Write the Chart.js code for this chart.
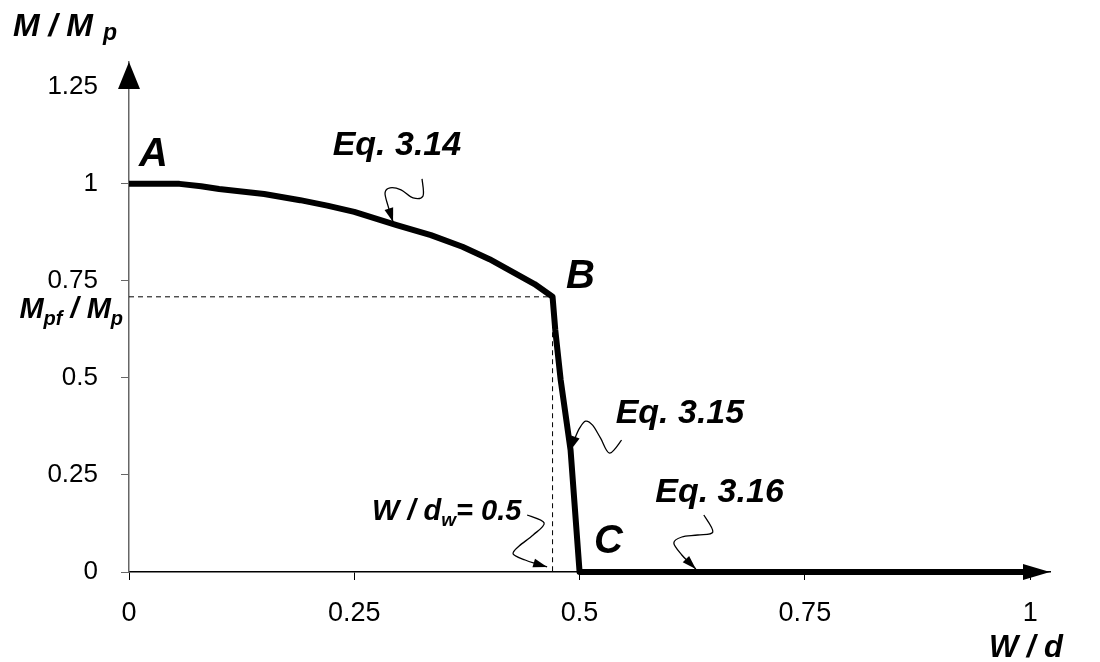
<!DOCTYPE html>
<html>
<head>
<meta charset="utf-8">
<script src="https://cdn.jsdelivr.net/npm/chart.js@4.4.1/dist/chart.umd.min.js"></script>
<style>
  html, body { margin: 0; padding: 0; background: #fff; }
  #wrap { width: 1100px; height: 662px; position: relative; }
</style>
</head>
<body>
<div id="wrap"><canvas id="chart"></canvas></div>
<script>
// Moment capacity curve M/Mp against W/d
const curveX = [0, 0.056, 0.08, 0.1, 0.15, 0.19, 0.22, 0.25, 0.297, 0.335, 0.37, 0.4, 0.428, 0.45, 0.47, 0.473, 0.479, 0.49, 0.5, 1];
const curveY = [1, 1, 0.994, 0.987, 0.974, 0.958, 0.944, 0.928, 0.894, 0.868, 0.838, 0.806, 0.77, 0.742, 0.709, 0.624, 0.495, 0.314, 0, 0];

// Dashed guide lines through point B
const guideX = [0, 0.47, 0.47];
const guideY = [0.709, 0.709, 0];

// Tick labels
const xTicks = [0, 0.25, 0.5, 0.75, 1];
const yTicks = [0, 0.25, 0.5, 0.75, 1, 1.25];

// Point and equation labels (value positions of the text's left / baseline)
const noteText = ['A', 'B', 'C', 'Eq. 3.14', 'Eq. 3.15', 'Eq. 3.16'];
const noteX = [0.011, 0.485, 0.516, 0.226, 0.54, 0.584];
const noteY = [1.046, 0.732, 0.049, 1.075, 0.384, 0.18];
const noteSize = [40, 40, 40, 34, 34, 34];

// Callout arrow tips (values)
const tipX = [0.293, 0.49, 0.629, 0.464];
const tipY = [0.902, 0.314, 0, 0];
const tipLift = [0, 0, -3, -5];

// Squiggle shapes, pixel offsets from each tip
const squiggles = [
  [[29, -43], [30, -26], [20, -24], [8, -32], [-3, -34], [-8, -29], [-5, -16], [0, 0]],
  [[51, -10], [39, 3], [30, -12], [22, -25], [15, -29], [9, -22], [4, -11], [0, 0]],
  [[8, -54], [17, -37], [2, -34], [-14, -32], [-22, -26], [-14, -14], [-6, -6], [0, 0]],
  [[-20, -52], [-3, -44], [-14, -32], [-28, -21], [-34, -13], [-22, -7], [-10, -3], [0, 0]],
];

const fontFam = '"Liberation Sans", Arial, sans-serif';

const drawRich = (ctx, x, y, parts) => {
  let cx = x;
  parts.forEach((p) => {
    ctx.font = `italic bold ${p.size}px ${fontFam}`;
    ctx.fillText(p.t, cx, y + (p.dy || 0));
    cx += ctx.measureText(p.t).width + (p.gap || 0);
  });
  return cx;
};

const richWidth = (ctx, parts) => {
  let w = 0;
  parts.forEach((p) => {
    ctx.font = `italic bold ${p.size}px ${fontFam}`;
    w += ctx.measureText(p.t).width + (p.gap || 0);
  });
  return w;
};

// Smooth path through points (Catmull-Rom to bezier)
const smoothPath = (ctx, pts) => {
  ctx.moveTo(pts[0][0], pts[0][1]);
  for (let i = 0; i < pts.length - 1; i++) {
    const p0 = pts[i - 1] || pts[i];
    const p1 = pts[i];
    const p2 = pts[i + 1];
    const p3 = pts[i + 2] || p2;
    ctx.bezierCurveTo(
      p1[0] + (p2[0] - p0[0]) / 6, p1[1] + (p2[1] - p0[1]) / 6,
      p2[0] - (p3[0] - p1[0]) / 6, p2[1] - (p3[1] - p1[1]) / 6,
      p2[0], p2[1]
    );
  }
};

const decorPlugin = {
  id: 'decor',
  afterDatasetsDraw(chart) {
    const { ctx, chartArea, scales } = chart;
    const xs = scales.x;
    const ys = scales.y;
    ctx.save();
    ctx.fillStyle = '#000';
    ctx.strokeStyle = '#000';

    // Axis arrow heads
    ctx.beginPath();
    ctx.moveTo(chartArea.left, chartArea.top);
    ctx.lineTo(chartArea.left - 11, chartArea.top + 27);
    ctx.lineTo(chartArea.left + 11, chartArea.top + 27);
    ctx.closePath();
    ctx.fill();
    ctx.beginPath();
    ctx.moveTo(chartArea.right, chartArea.bottom);
    ctx.lineTo(chartArea.right - 27, chartArea.bottom - 8);
    ctx.lineTo(chartArea.right - 27, chartArea.bottom + 8);
    ctx.closePath();
    ctx.fill();

    // Point / equation labels
    ctx.textBaseline = 'alphabetic';
    ctx.textAlign = 'left';
    noteText.forEach((t, i) => {
      ctx.font = `italic bold ${noteSize[i]}px ${fontFam}`;
      ctx.fillText(t, xs.getPixelForValue(noteX[i]), ys.getPixelForValue(noteY[i]));
    });

    // W / dw = 0.5 label
    drawRich(ctx, xs.getPixelForValue(0.2697), ys.getPixelForValue(0.134), [
      { t: 'W / d', size: 29 },
      { t: 'w', size: 19, dy: 6 },
      { t: '= 0.5', size: 29 },
    ]);

    // Callout squiggles
    ctx.lineWidth = 1.3;
    squiggles.forEach((shape, i) => {
      const tx = xs.getPixelForValue(tipX[i]);
      const ty = ys.getPixelForValue(tipY[i]) + tipLift[i];
      const pts = shape.map(([dx, dy]) => [tx + dx, ty + dy]);
      ctx.beginPath();
      smoothPath(ctx, pts);
      ctx.stroke();
      const prev = pts[pts.length - 2];
      const ang = Math.atan2(ty - prev[1], tx - prev[0]);
      ctx.beginPath();
      ctx.moveTo(tx, ty);
      ctx.lineTo(tx - 14 * Math.cos(ang) + 4.5 * Math.sin(ang), ty - 14 * Math.sin(ang) - 4.5 * Math.cos(ang));
      ctx.lineTo(tx - 14 * Math.cos(ang) - 4.5 * Math.sin(ang), ty - 14 * Math.sin(ang) + 4.5 * Math.cos(ang));
      ctx.closePath();
      ctx.fill();
    });

    // Axis titles
    drawRich(ctx, chartArea.left - 116, chartArea.top - 26, [
      { t: 'M / M', size: 32, gap: 10 },
      { t: 'p', size: 23, dy: 4 },
    ]);
    const wd = [{ t: 'W / d', size: 31 }];
    drawRich(ctx, chartArea.right + 13 - richWidth(ctx, wd), chartArea.bottom + 85, wd);

    // Mpf / Mp label on the y axis
    const mpf = [
      { t: 'M', size: 29 },
      { t: 'pf', size: 20, dy: 7 },
      { t: ' / M', size: 29 },
      { t: 'p', size: 20, dy: 7 },
    ];
    drawRich(ctx, chartArea.left - 6 - richWidth(ctx, mpf), ys.getPixelForValue(0.655), mpf);

    ctx.restore();
  },
};

new Chart(document.getElementById('chart'), {
  type: 'scatter',
  data: {
    datasets: [
      {
        data: curveX.map((x, i) => ({ x, y: curveY[i] })),
        showLine: true,
        borderColor: '#000',
        borderWidth: 6,
        borderJoinStyle: 'round',
        pointRadius: 0,
        clip: false,
      },
      {
        data: guideX.map((x, i) => ({ x, y: guideY[i] })),
        showLine: true,
        borderColor: '#000',
        borderWidth: 1,
        borderDash: [5, 4],
        pointRadius: 0,
      },
    ],
  },
  options: {
    responsive: true,
    maintainAspectRatio: false,
    animation: false,
    layout: { padding: { top: 62, right: 50, left: 0, bottom: 0 } },
    plugins: {
      legend: { display: false },
      tooltip: { enabled: false },
    },
    scales: {
      x: {
        type: 'linear',
        min: 0,
        max: 1.022,
        afterBuildTicks: (s) => { s.ticks = xTicks.map((v) => ({ value: v })); },
        afterFit: (s) => { s.height = 90; },
        ticks: {
          color: '#000',
          padding: 17,
          maxRotation: 0,
          font: { family: fontFam, size: 27 },
          callback: (v) => String(v),
        },
        grid: { drawOnChartArea: false, drawTicks: true, tickLength: 8, color: '#000' },
        border: { color: '#000', width: 1.5 },
      },
      y: {
        min: 0,
        max: 1.314,
        afterBuildTicks: (s) => { s.ticks = yTicks.map((v) => ({ value: v })); },
        afterFit: (s) => { s.width = 129; },
        ticks: {
          color: '#000',
          padding: 23,
          font: { family: fontFam, size: 26 },
          callback: (v) => String(v),
        },
        grid: { drawOnChartArea: false, drawTicks: true, tickLength: 8, color: '#666' },
        border: { color: '#666', width: 1.5 },
      },
    },
  },
  plugins: [decorPlugin],
});
</script>
</body>
</html>
